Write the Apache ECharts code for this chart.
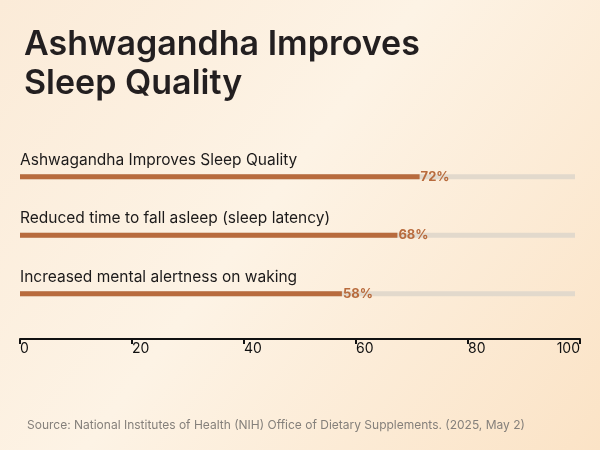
<!DOCTYPE html>
<html>
<head>
<meta charset="utf-8">
<script src="https://cdn.jsdelivr.net/npm/echarts@6/dist/echarts.min.js"></script>
<style>
  html, body { margin: 0; padding: 0; }
  #chart { width: 600px; height: 450px; }
</style>
</head>
<body>
<div id="chart"></div>
<script>
var categories = [
  'Ashwagandha Improves Sleep Quality',
  'Reduced time to fall asleep (sleep latency)',
  'Increased mental alertness on waking'
];
var values = [72, 68, 58];
var trackValues = [100, 100, 100];
var axisTicks = [0, 20, 40, 60, 80, 100];

var barColor = '#b86b3d';
var trackColor = '#e2d9cc';
var fontFamily = 'Inter, "Open Sans", sans-serif';

var myChart = echarts.init(document.getElementById('chart'));

var option = {
  backgroundColor: {
    type: 'linear',
    x: 0, y: 0, x2: 1, y2: 1,
    colorStops: [
      { offset: 0, color: '#fbebd8' },
      { offset: 0.45, color: '#fdf3e5' },
      { offset: 1, color: '#fbe3c6' }
    ]
  },
  animation: false,
  title: {
    text: 'Ashwagandha Improves\nSleep Quality',
    left: 19,
    top: 20,
    textStyle: {
      fontFamily: fontFamily,
      fontSize: 34,
      fontWeight: 600,
      color: '#231f20',
      lineHeight: 39
    }
  },
  graphic: [{
    type: 'text',
    left: 27,
    top: 419,
    style: {
      text: 'Source: National Institutes of Health (NIH) Office of Dietary Supplements. (2025, May 2)',
      font: '12px ' + fontFamily,
      fill: '#85807b'
    }
  }],
  grid: [{
    left: 20,
    width: 555,
    top: 147.5,
    height: 175.5
  }, {
    left: 20,
    width: 560,
    top: 339,
    height: 0
  }],
  xAxis: [{
    gridIndex: 0,
    type: 'value',
    min: 0,
    max: 100,
    show: false
  }, {
    gridIndex: 1,
    type: 'value',
    min: 0,
    max: 100,
    interval: 20,
    position: 'bottom',
    axisLine: { show: true, lineStyle: { color: '#111', width: 2 } },
    axisTick: { show: true, length: 5, lineStyle: { color: '#111', width: 2 } },
    splitLine: { show: false },
    axisLabel: {
      margin: 3,
      align: 'left',
      alignMaxLabel: 'right',
      color: '#111',
      fontSize: 14,
      fontFamily: fontFamily,
      formatter: function (v) {
        return axisTicks.indexOf(v) >= 0 ? String(v) : '';
      }
    }
  }],
  yAxis: [{
    gridIndex: 0,
    type: 'category',
    inverse: true,
    data: categories,
    show: false
  }, {
    gridIndex: 1,
    type: 'value',
    show: false
  }],
  series: [{
    name: 'track',
    type: 'bar',
    xAxisIndex: 0,
    yAxisIndex: 0,
    data: trackValues,
    barWidth: 5,
    barGap: '-100%',
    silent: true,
    itemStyle: { color: trackColor },
    label: {
      show: true,
      position: [0, -6],
      align: 'left',
      verticalAlign: 'bottom',
      color: '#1c1a1a',
      fontSize: 15.5,
      fontFamily: fontFamily,
      formatter: function (p) {
        return categories[p.dataIndex];
      }
    },
    z: 1
  }, {
    name: 'value',
    type: 'bar',
    xAxisIndex: 0,
    yAxisIndex: 0,
    data: values,
    barWidth: 5,
    itemStyle: { color: barColor },
    label: {
      show: true,
      position: 'right',
      distance: 1,
      color: barColor,
      fontSize: 13,
      fontWeight: 700,
      fontFamily: fontFamily,
      formatter: '{c}%'
    },
    z: 2
  }]
};

myChart.setOption(option);
</script>
</body>
</html>
